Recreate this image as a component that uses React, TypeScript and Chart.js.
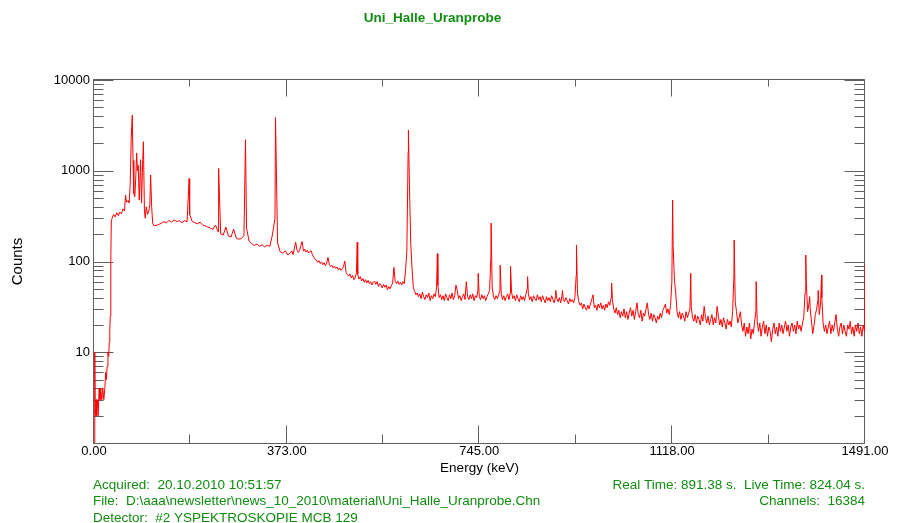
import React, { useEffect, useRef } from 'react';
import { Chart, registerables } from 'chart.js';

Chart.register(...registerables);

const FONT = '"Liberation Sans", Arial, Helvetica, sans-serif';
const GREEN = 'rgb(16,140,16)';
const AXIS = '#5f5f5f';

const titleText = 'Uni_Halle_Uranprobe';
const xTitle = 'Energy (keV)';
const yTitle = 'Counts';

const xMajorTicks = [0, 373, 745, 1118, 1491];
const xMinorTicks = [186.5, 559, 931.5, 1304.5];
const yMajorTicks = [10, 100, 1000, 10000];
const yDecades = [1, 10, 100, 1000];
const yMinorFactors = [2, 3, 4, 5, 6, 7, 8, 9];

const infoLeft = [
  'Acquired:  20.10.2010 10:51:57',
  'File:  D:\\aaa\\newsletter\\news_10_2010\\material\\Uni_Halle_Uranprobe.Chn',
  'Detector:  #2 YSPEKTROSKOPIE MCB 129',
];
const infoRight = ['Real Time: 891.38 s.  Live Time: 824.04 s.', 'Channels:  16384'];

// Low-energy part of the spectrum (keV, counts)
const lowEnergy = [
  0, 1.5, 2.5, 4, 5, 6.5, 8, 10, 11.5, 13, 15, 17, 19, 21, 22.5, 24, 25.5, 27, 28.5, 29.5,
  30.5, 31.5, 32.5, 33.5, 35, 38, 41, 44, 47, 50, 53, 56, 59, 61, 63, 66, 68, 70, 72, 74,
  75.5, 77, 79, 81, 82.5, 84, 85.5, 87.5, 90, 92, 93.5, 95.5, 97.5, 99, 101, 103.5, 106, 108, 109.5, 111.5,
  113.5, 116,
];
const lowCounts = [
  0.5, 10, 2, 3, 2, 3, 2, 4, 3, 4, 3, 4, 3, 4, 6, 5, 7, 10, 9, 13,
  17, 25, 100, 280, 300, 330, 310, 345, 320, 350, 335, 380, 360, 540, 450, 470, 440, 700, 2300, 4100,
  1300, 560, 518, 900, 1570, 1000, 1150, 475, 1320, 440, 950, 2090, 370, 300, 400, 330, 360, 420, 900, 400,
  265, 248,
];

// Continuum 120 - 375 keV, one value every 5 keV
const bgAStart = 120;
const bgAStep = 5;
const bgACounts = [
  250, 256, 263, 274, 267, 283, 272, 286, 276, 281,
  268, 283, 274, 330, 276, 268, 260, 271, 254, 247,
  240, 233, 226, 252, 212, 201, 196, 240, 191, 186,
  228, 181, 176, 179, 192, 232, 168, 157, 150, 156,
  147, 153, 145, 151, 147, 196, 300, 160, 128, 123,
  131, 118,
];

// Continuum 380 - 1490 keV, one value every 2.5 keV
const bgBStart = 380;
const bgBStep = 2.5;
const bgBCounts = [
  125, 131, 119, 140, 163, 134, 126, 132, 150, 166, 130, 137, 127, 133, 124, 129, 131, 118, 112, 106,
  104, 98, 102, 95, 99, 92, 97, 90, 96, 111, 93, 88, 91, 85, 89, 84, 87, 81, 85, 80,
  83, 88, 101, 76, 72, 69, 73, 66, 70, 63, 66, 75, 72, 64, 68, 61, 65, 59, 63, 58,
  62, 57, 60, 55, 59, 61, 56, 60, 53, 57, 55, 51, 56, 52, 55, 49, 53, 50, 54, 58,
  86, 60, 57, 61, 56, 59, 55, 60, 57, 80, 130, 1600, 700, 160, 85, 52, 47, 43, 45, 41,
  44, 39, 46, 41, 38, 43, 40, 45, 37, 42, 39, 44, 41, 52, 55, 40, 43, 38, 42, 37,
  44, 40, 37, 43, 39, 45, 38, 42, 55, 48, 39, 42, 37, 41, 44, 38, 60, 41, 38, 43,
  39, 44, 37, 42, 40, 48, 41, 38, 43, 39, 42, 37, 41, 44, 48, 110, 52, 41, 38, 42,
  39, 43, 48, 44, 38, 42, 37, 41, 44, 38, 45, 46, 39, 42, 37, 43, 39, 36, 42, 38,
  41, 37, 43, 50, 44, 38, 41, 36, 42, 39, 37, 43, 38, 41, 36, 42, 38, 35, 41, 37,
  40, 36, 42, 38, 35, 41, 39, 36, 40, 35, 42, 38, 36, 40, 37, 34, 39, 36, 38, 35,
  40, 70, 45, 36, 33, 35, 30, 34, 31, 29, 33, 30, 34, 38, 43, 31, 33, 29, 34, 31,
  35, 30, 33, 29, 34, 31, 36, 33, 40, 38, 30, 27, 31, 26, 29, 24, 28, 25, 30, 24,
  28, 23, 27, 31, 25, 29, 23, 28, 35, 26, 24, 29, 22, 27, 25, 30, 35, 26, 23, 27,
  22, 26, 24, 21, 25, 23, 27, 24, 29, 31, 34, 27, 30, 26, 33, 60, 150, 62, 45, 28,
  24, 28, 23, 27, 25, 22, 28, 24, 27, 30, 32, 24, 22, 26, 21, 25, 23, 20, 26, 22,
  32, 24, 21, 25, 20, 23, 26, 20, 24, 21, 32, 25, 20, 23, 19, 24, 21, 18, 23, 20,
  22, 19, 28, 70, 36, 28, 21, 24, 28, 20, 17, 21, 15, 19, 16, 21, 14, 18, 16, 22,
  28, 22, 17, 21, 15, 19, 22, 16, 20, 15, 19, 17, 13, 18, 21, 16, 19, 15, 21, 17,
  20, 16, 19, 22, 17, 20, 15, 19, 21, 17, 20, 16, 22, 18, 20, 17, 21, 24, 45, 60,
  28, 34, 30, 22, 16, 20, 26, 30, 38, 26, 34, 40, 21, 17, 20, 16, 19, 22, 16, 20,
  17, 21, 26, 18, 15, 19, 21, 16, 20, 17, 15, 20, 18, 22, 16, 19, 15, 20, 17, 21,
  16, 19, 15, 20, 17,
];

// Line tops (keV, counts)
const peakEnergy = [
  184, 241, 293, 351, 509, 608, 664, 743, 768, 785.5, 805.5, 838.5, 893, 906, 933, 1001,
  1119, 1154, 1238, 1280.5, 1376.5, 1384, 1400.5, 1407, 1491,
];
const peakCounts = [
  820, 1060, 2200, 3850, 163, 2800, 122, 74, 265, 91, 89, 68, 48, 48, 152, 58,
  476, 74, 172, 60, 118, 41, 48, 71, 95,
];

const points = [
  ...lowEnergy.map((e, i) => ({ x: e, y: lowCounts[i] })),
  ...bgACounts.map((c, i) => ({ x: bgAStart + i * bgAStep, y: c })),
  ...bgBCounts.map((c, i) => ({ x: bgBStart + i * bgBStep, y: c })),
  ...peakEnergy.map((e, i) => ({ x: e, y: peakCounts[i] })),
].sort((a, b) => a.x - b.x);

const boxPlugin = {
  id: 'boxAxes',
  beforeDatasetsDraw(chart: any) {
    const { ctx, chartArea, scales } = chart;
    const { left, right, top, bottom } = chartArea;
    const xs = scales.x;
    const ys = scales.y;
    const L = Math.round(left) - 0.5;
    const R = Math.round(right) - 0.5;
    const T = Math.round(top) - 0.5;
    const B = Math.round(bottom) + 0.5;
    ctx.save();
    ctx.strokeStyle = AXIS;
    ctx.lineWidth = 1;
    ctx.beginPath();
    ctx.moveTo(L, T);
    ctx.lineTo(R, T);
    ctx.lineTo(R, B);
    ctx.lineTo(L, B);
    ctx.closePath();
    ctx.stroke();
    ctx.beginPath();
    const hTick = (v: number, len: number) => {
      const py = Math.round(ys.getPixelForValue(v)) + 0.5;
      ctx.moveTo(L, py);
      ctx.lineTo(L + len, py);
      ctx.moveTo(R, py);
      ctx.lineTo(R - len, py);
    };
    yDecades.forEach((d) => {
      hTick(d, 20);
      yMinorFactors.forEach((f) => hTick(d * f, 10));
    });
    hTick(10000, 20);
    const vTick = (v: number, lenB: number, lenT: number) => {
      const px = Math.round(xs.getPixelForValue(v)) - 0.5;
      ctx.moveTo(px, B);
      ctx.lineTo(px, B - lenB);
      ctx.moveTo(px, T);
      ctx.lineTo(px, T + lenT);
    };
    xMajorTicks.forEach((v) => vTick(v, 18, 17));
    xMinorTicks.forEach((v) => vTick(v, 9, 7));
    ctx.stroke();
    ctx.restore();
  },
};

const infoPlugin = {
  id: 'info',
  afterDraw(chart: any) {
    const { ctx } = chart;
    ctx.save();
    ctx.font = `13.5px ${FONT}`;
    ctx.fillStyle = GREEN;
    ctx.textBaseline = 'middle';
    ctx.textAlign = 'left';
    infoLeft.forEach((t, i) => ctx.fillText(t, 93, 485 + i * 16.5));
    ctx.textAlign = 'right';
    infoRight.forEach((t, i) => ctx.fillText(t, 865, 485 + i * 16.5));
    ctx.restore();
  },
};

export default function App() {
  const ref = useRef<HTMLCanvasElement | null>(null);
  useEffect(() => {
    if (!ref.current) return;
    const chart = new Chart(ref.current, {
      type: 'line',
      data: {
        datasets: [
          {
            data: points,
            borderColor: '#ff0000',
            borderWidth: 1,
            pointRadius: 0,
            tension: 0,
            fill: false,
          },
        ],
      },
      options: {
        responsive: false,
        animation: false,
        devicePixelRatio: 1,
        layout: { padding: { left: 0, right: 39, top: 0, bottom: 0 } },
        plugins: {
          legend: { display: false },
          tooltip: { enabled: false },
          title: {
            display: true,
            text: titleText,
            color: GREEN,
            font: { family: FONT, size: 13.5, weight: 'bold' },
            padding: { top: 10, bottom: 53.8 },
          },
        },
        scales: {
          x: {
            type: 'linear',
            min: 0,
            max: 1491,
            position: 'bottom',
            grid: { display: false, drawTicks: false },
            border: { display: false },
            ticks: {
              padding: 1,
              color: '#000',
              font: { family: FONT, size: 13 },
              autoSkip: false,
              maxRotation: 0,
              callback: (v: any) => Number(v).toFixed(2),
            },
            afterBuildTicks: (s: any) => {
              s.ticks = xMajorTicks.map((v) => ({ value: v }));
            },
            afterFit: (s: any) => {
              s.height = 80;
              s.paddingLeft = 0;
              s.paddingRight = 0;
            },
            title: {
              display: true,
              text: xTitle,
              color: '#000',
              font: { family: FONT, size: 13.5 },
              padding: { top: 0, bottom: 47 },
            },
          },
          y: {
            type: 'logarithmic',
            min: 1,
            max: 10000,
            position: 'left',
            grid: { display: false, drawTicks: false },
            border: { display: false },
            ticks: {
              padding: 4,
              color: '#000',
              font: { family: FONT, size: 13 },
              autoSkip: false,
              callback: (v: any) => String(v),
            },
            afterBuildTicks: (s: any) => {
              s.ticks = yMajorTicks.map((v) => ({ value: v }));
            },
            afterFit: (s: any) => {
              s.width = 94;
              s.paddingTop = 0;
              s.paddingBottom = 0;
            },
            title: {
              display: true,
              text: yTitle,
              color: '#000',
              font: { family: FONT, size: 15 },
              padding: { top: 9, bottom: 0 },
            },
          },
        },
      } as any,
      plugins: [boxPlugin, infoPlugin],
    });
    return () => chart.destroy();
  }, []);
  return (
    <div style={{ position: 'fixed', left: 0, top: 0, width: 904, height: 523, background: '#fff' }}>
      <canvas ref={ref} width={904} height={523} style={{ display: 'block' }} />
    </div>
  );
}
